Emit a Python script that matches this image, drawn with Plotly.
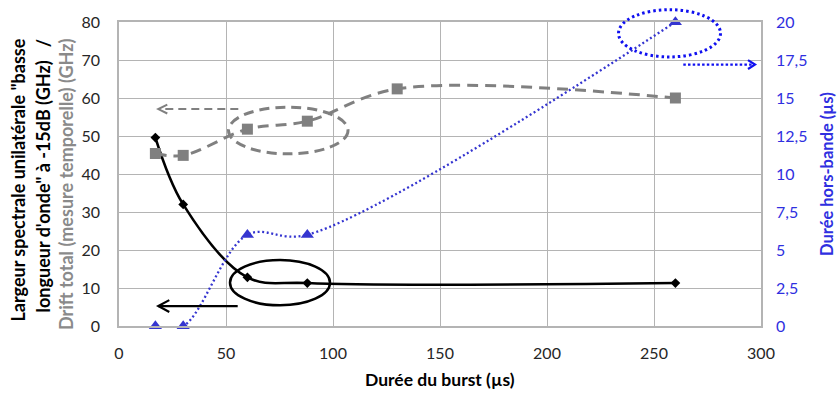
import plotly.graph_objects as go

# ---------------- data ----------------
x_largeur = [17, 30, 60, 88, 260]
largeur_ghz = [49.6, 32.0, 12.8, 11.3, 11.3]

x_drift = [17, 30, 60, 88, 130, 260]
drift_ghz = [45.4, 44.9, 51.8, 53.9, 62.4, 60.0]

x_hors = [17, 30, 60, 88, 260]
hors_bande_us = [0, 0, 6, 6, 20]

x_ticks = [0, 50, 100, 150, 200, 250, 300]
y_left_ticks = [0, 10, 20, 30, 40, 50, 60, 70, 80]
y_right_ticks = [0, 2.5, 5, 7.5, 10, 12.5, 15, 17.5, 20]
y_right_labels = ["0", "2,5", "5", "7,5", "10", "12,5", "15", "17,5", "20"]

title_line1 = "Largeur spectrale unilatérale \"basse"
title_line2 = "longueur d'onde\" à -15dB (GHz)   /"
title_line3 = "Drift total (mesure temporelle) (GHz)"
x_title = "Durée du burst (µs)"
y2_title = "Durée hors-bande (µs)"

# ---------------- layout geometry ----------------
W, H = 837, 394
L, R, T, B = 119, 76, 17, 68
PW, PH = W - L - R, H - T - B

def px(x):
    return (x - L) / PW

def py(y):
    return (H - B - y) / PH

FONT = "Lato"
BLUE_TXT = "#2f2fe0"
BLUE_LINE = "#3535d0"
BLUE_DEC = "#1010f0"
GRAY = "#808080"
GRID = "#b4b4b4"

fig = go.Figure()

fig.add_trace(go.Scatter(
    x=x_largeur, y=largeur_ghz, mode="lines+markers",
    line=dict(color="black", width=2.6, shape="spline", smoothing=1),
    marker=dict(symbol="diamond", size=7.5, color="black"),
    cliponaxis=False, showlegend=False))

fig.add_trace(go.Scatter(
    x=x_drift, y=drift_ghz, mode="lines+markers",
    line=dict(color=GRAY, width=3, dash="11px,7px", shape="spline", smoothing=1),
    marker=dict(symbol="square", size=11, color=GRAY),
    cliponaxis=False, showlegend=False))

fig.add_trace(go.Scatter(
    x=x_hors, y=hors_bande_us, mode="lines+markers", yaxis="y2",
    line=dict(color=BLUE_LINE, width=2.3, dash="2px,2.6px", shape="spline", smoothing=1),
    marker=dict(symbol="triangle-up", size=11.5, color=BLUE_LINE),
    cliponaxis=False, showlegend=False))

shapes = []

def ellipse(x0, y0, x1, y1, color, width, dash):
    shapes.append(dict(type="circle", xref="paper", yref="paper",
                       x0=px(x0), x1=px(x1), y0=py(y1), y1=py(y0),
                       line=dict(color=color, width=width, dash=dash)))

def arrow(xs, xe, y, back, half, color, width, dash):
    shapes.append(dict(type="line", xref="paper", yref="paper",
                       x0=px(xs), x1=px(xe), y0=py(y), y1=py(y),
                       line=dict(color=color, width=width, dash=dash)))
    sgn = 1 if xe < xs else -1
    path = "M{},{} L{},{} L{},{}".format(
        px(xe + sgn * back), py(y - half), px(xe), py(y),
        px(xe + sgn * back), py(y + half))
    shapes.append(dict(type="path", xref="paper", yref="paper", path=path,
                       line=dict(color=color, width=width)))

ellipse(230, 259, 330, 305, "black", 2.5, "solid")
ellipse(228.5, 103.5, 348, 151, GRAY, 3, "10px,6px")
ellipse(618.5, 4.5, 720.5, 52.5, BLUE_DEC, 3, "2.5px,3px")

arrow(237.7, 158.3, 305.7, 11, 6, "black", 2.2, "solid")
arrow(238.3, 158.3, 105.5, 9, 4.5, GRAY, 2, "8px,5px")
arrow(683.3, 755, 60.3, 7, 4.5, BLUE_DEC, 2.2, "2.5px,2.2px")

annotations = []
for xx, txt, col in [(18.3, title_line1, "black"), (42.7, title_line2, "black"),
                     (66.7, title_line3, "#8a8a8a")]:
    annotations.append(dict(
        xref="paper", yref="paper", x=px(xx), y=py(32), text=txt,
        textangle=-90, showarrow=False, xanchor="center", yanchor="top",
        font=dict(family=FONT, size=18, color=col, weight="bold")))

annotations.append(dict(
    xref="paper", yref="paper", x=px(440.3), y=py(380), text=x_title,
    showarrow=False, xanchor="center", yanchor="middle",
    font=dict(family=FONT, size=17.5, color="black", weight="bold")))

annotations.append(dict(
    xref="paper", yref="paper", x=px(827), y=0.5, text=y2_title,
    textangle=-90, showarrow=False, xanchor="center", yanchor="middle",
    font=dict(family=FONT, size=16.5, color=BLUE_TXT, weight="bold")))

fig.update_layout(
    width=W, height=H,
    margin=dict(l=L, r=R, t=T, b=B, pad=0),
    paper_bgcolor="white", plot_bgcolor="white",
    font=dict(family=FONT, size=16, color="#262626"),
    xaxis=dict(range=[0, 300], tickvals=x_ticks, showgrid=True, gridcolor=GRID,
               gridwidth=1, showline=True, linecolor=GRID, linewidth=1.5, mirror=True,
               zeroline=False, ticks="", ticklabelstandoff=12, fixedrange=True),
    yaxis=dict(range=[0, 80], tickvals=y_left_ticks, showgrid=True, gridcolor=GRID,
               gridwidth=1, showline=True, linecolor=GRID, linewidth=1.5, mirror=True,
               zeroline=False, ticks="", ticklabelstandoff=14),
    yaxis2=dict(range=[0, 20], tickvals=y_right_ticks, ticktext=y_right_labels,
                overlaying="y", side="right", showgrid=False, zeroline=False,
                showline=False, ticks="", ticklabelstandoff=14,
                tickfont=dict(color=BLUE_TXT, family=FONT, size=16)),
    shapes=shapes, annotations=annotations, showlegend=False,
)

fig.write_html("out.html", config={"displayModeBar": False},
               post_script="document.body.style.margin='0';document.body.style.overflow='hidden';")
